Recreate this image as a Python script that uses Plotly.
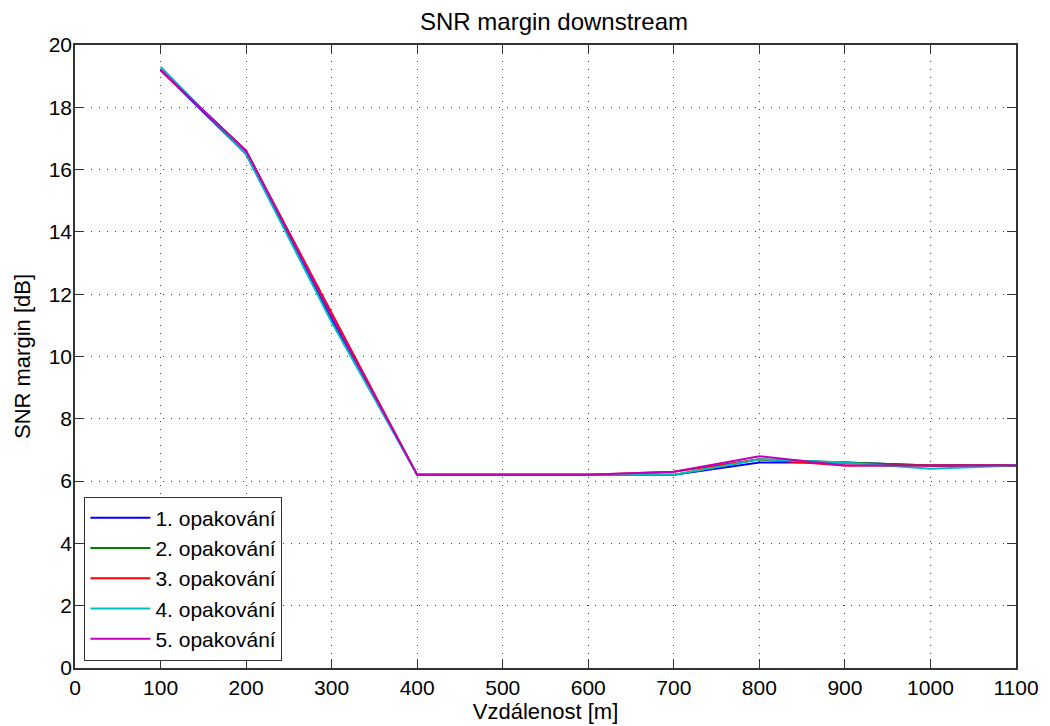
import plotly.graph_objects as go

distance = [100, 200, 300, 400, 500, 600, 700, 800, 900, 1000, 1100]
rep1 = [19.2, 16.5, 11.2, 6.2, 6.2, 6.2, 6.2, 6.6, 6.6, 6.5, 6.5]
rep2 = [19.2, 16.6, 11.3, 6.2, 6.2, 6.2, 6.2, 6.7, 6.6, 6.5, 6.5]
rep3 = [19.2, 16.6, 11.4, 6.2, 6.2, 6.2, 6.3, 6.7, 6.5, 6.5, 6.5]
rep4 = [19.3, 16.5, 11.1, 6.2, 6.2, 6.2, 6.2, 6.7, 6.6, 6.4, 6.5]
rep5 = [19.2, 16.6, 11.3, 6.2, 6.2, 6.2, 6.3, 6.8, 6.5, 6.5, 6.5]
names = ["1. opakování", "2. opakování", "3. opakování", "4. opakování", "5. opakování"]
colors = ["#0000ff", "#008000", "#ff0000", "#00bfbf", "#bf00bf"]
series = [rep1, rep2, rep3, rep4, rep5]

fig = go.Figure()
for n, c, s in zip(names, colors, series):
    fig.add_trace(go.Scatter(x=distance, y=s, mode="lines", name=n,
                             line=dict(color=c, width=2)))

axis_common = dict(showgrid=True, gridcolor="#444444", griddash="1px,7px", gridwidth=1,
                   ticks="inside", ticklen=9, tickcolor="#333333", mirror="ticks",
                   showline=True, linecolor="#333333", linewidth=1.5, zeroline=False,
                   automargin=False,
                   tickfont=dict(size=21, color="black"))
fig.update_layout(
    width=1050, height=726,
    margin=dict(l=67, r=42, t=37, b=66),
    paper_bgcolor="white", plot_bgcolor="white",
    font=dict(family="Liberation Sans, Arial, sans-serif", size=21, color="black"),
    title=dict(text="SNR margin downstream", x=0.52, xanchor="center", y=0.9807, yanchor="middle",
               font=dict(size=24)),
    xaxis=dict(range=[0, 1100], dtick=100, title=dict(text="Vzdálenost [m]", standoff=2, font=dict(size=22)),
               **axis_common),
    yaxis=dict(range=[0, 20], dtick=2, ticklabelstandoff=-3,
               title=dict(text="SNR margin [dB]", standoff=12, font=dict(size=22)),
               **axis_common),
    legend=dict(x=0.01, y=0.012, xanchor="left", yanchor="bottom", bgcolor="white",
                bordercolor="#333333", borderwidth=1, font=dict(size=21),
                itemwidth=60, tracegroupgap=0),
    showlegend=True,
)
fig.write_html("out.html")
